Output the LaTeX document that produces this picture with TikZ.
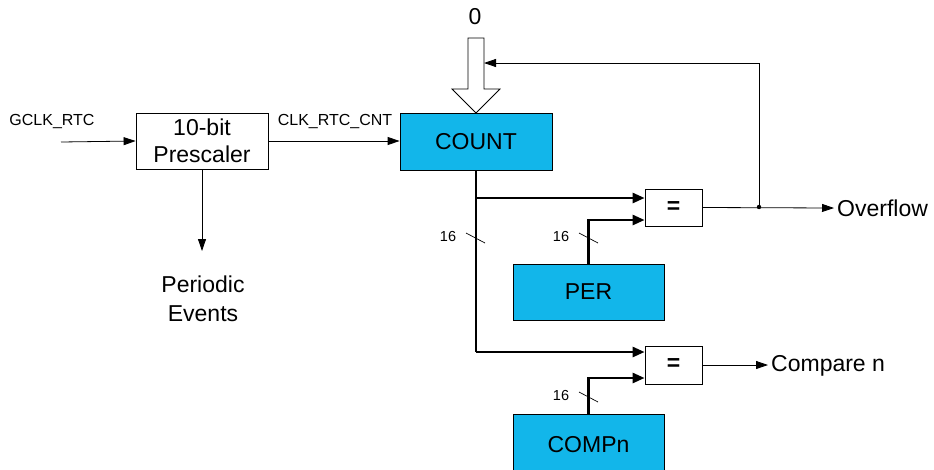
\documentclass[tikz,border=0pt]{standalone}
\usepackage{fontspec}
\setmainfont{Liberation Sans}
\usetikzlibrary{arrows.meta}
\definecolor{regblue}{HTML}{12B6EA}
\begin{document}
\begin{tikzpicture}[x=1pt,y=-1pt,
  big/.style={font=\fontsize{23}{27}\selectfont},
  small/.style={font=\fontsize{16}{18}\selectfont},
  tiny/.style={font=\fontsize{14.5}{16}\selectfont},
  reg/.style={draw=black, line width=0.8pt, fill=regblue, inner sep=0pt, big},
  wbox/.style={draw=black, line width=0.8pt, fill=white, inner sep=0pt, big},
  thin/.style={line width=0.8pt, -{Triangle[length=12pt,width=8pt]}},
  thick/.style={line width=2.6pt, -{Triangle[length=12pt,width=10pt]}},
  bus/.style={line width=0.7pt}]
\useasboundingbox (0,0) rectangle (934,469);
% nodes
\node[reg, minimum width=152pt, minimum height=57pt] (count) at (476,141.5) {COUNT};
\node[wbox, minimum width=132pt, minimum height=56pt, align=center, font=\fontsize{23}{27}\selectfont] (presc) at (202,141) {10-bit\\Prescaler};
\node[wbox, minimum width=57pt, minimum height=37pt, font=\bfseries\fontsize{23}{27}\selectfont] (eq1) at (673.5,207.5) {=};
\node[wbox, minimum width=57pt, minimum height=38pt, font=\bfseries\fontsize{23}{27}\selectfont] (eq2) at (673.5,365) {=};
\node[reg, minimum width=151pt, minimum height=56pt] (per) at (588.5,292) {PER};
\node[reg, minimum width=151pt, minimum height=62pt, text depth=0pt] (compn) at (588.5,445) {\raisebox{2pt}{COMPn}};
\node[big] (zero) at (475,17) {0};
\node[small] (gclk) at (52,121) {GCLK\_RTC};
\node[small] (clkcnt) at (335,121) {CLK\_RTC\_CNT};
\node[big, anchor=west, inner sep=3pt] (ovf) at (834,208) {Overflow};
\node[big, anchor=west, inner sep=3pt] (cmp) at (768,366) {Compare n};
\node[big, anchor=north, align=center, inner sep=0pt, font=\fontsize{23}{29}\selectfont] (periodic) at (203,276) {Periodic\\Events};
\node[tiny] (l1) at (448,237) {16};
\node[tiny] (l2) at (561,237) {16};
\node[tiny] (l3) at (561,396) {16};
% coordinates
\coordinate (gin) at (61,142);
\coordinate (fb) at (484,63);
\coordinate (dot) at (759,207);
\coordinate (br) at (476,198);
\coordinate (corner) at (476,352);
\coordinate (pend) at (202,251);
% hollow arrow
\draw[line width=0.8pt, fill=white] (468,38) -- (484,38) -- (484,89) -- (500,89) -- (476,113) -- (452,89) -- (468,89) -- cycle;
% thin connectors
\draw[thin] (gin) -- (presc.west);
\draw[thin] (presc.east) -- (count.west |- presc.east);
\draw[thin] (presc.south) -- (pend);
\draw[thin] (eq1.east) -- (ovf.west);
\draw[thin] (eq2.east) -- (cmp.west |- eq2.east);
\draw[thin] (dot) -- (dot |- fb) -- (fb);
\fill (dot) circle (2.2pt);
% thick buses
\draw[line width=2.6pt] (count.south -| corner) -- (corner);
\draw[thick] (corner) -- (corner -| eq2.west);
\draw[thick] (br) -- (br -| eq1.west);
\draw[thick] (per.north) |- ([yshift=-12.5pt]eq1.west);
\draw[thick] (compn.north) |- ([yshift=-13pt]eq2.west);
% bus width slashes
\draw[bus] (466,233) -- (485,243);
\draw[bus] (579,233) -- (598,243);
\draw[bus] (579,392) -- (598,402);
\end{tikzpicture}
\end{document}
